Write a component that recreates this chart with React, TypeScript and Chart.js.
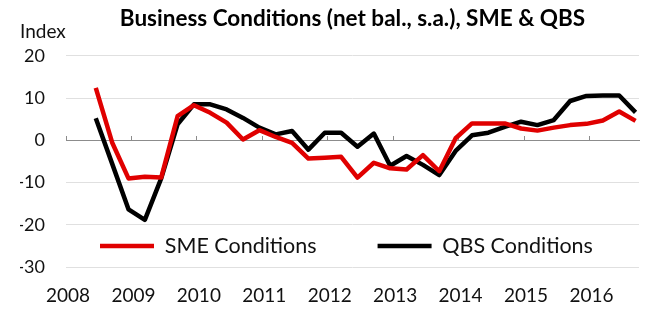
import React, { useEffect, useRef } from 'react';
import { Chart, registerables } from 'chart.js';

Chart.register(...registerables);

const TITLE = 'Business Conditions (net bal., s.a.), SME & QBS';
const Y_TITLE = 'Index';
const YEARS = ['2008', '2009', '2010', '2011', '2012', '2013', '2014', '2015', '2016'];
const Y_TICKS = [-30, -20, -10, 0, 10, 20];
const QUARTERS = [
  '2008 Q2', '2008 Q3', '2008 Q4',
  '2009 Q1', '2009 Q2', '2009 Q3', '2009 Q4',
  '2010 Q1', '2010 Q2', '2010 Q3', '2010 Q4',
  '2011 Q1', '2011 Q2', '2011 Q3', '2011 Q4',
  '2012 Q1', '2012 Q2', '2012 Q3', '2012 Q4',
  '2013 Q1', '2013 Q2', '2013 Q3', '2013 Q4',
  '2014 Q1', '2014 Q2', '2014 Q3', '2014 Q4',
  '2015 Q1', '2015 Q2', '2015 Q3', '2015 Q4',
  '2016 Q1', '2016 Q2', '2016 Q3',
];
const SME_LABEL = 'SME Conditions';
const QBS_LABEL = 'QBS Conditions';
const SME = [
  12.4, -0.5, -9.0, -8.6, -8.8, 5.7, 8.3, 6.5, 4.2, 0.2, 2.4, 0.8,
  -0.6, -4.3, -4.1, -3.9, -8.8, -5.3, -6.6, -6.9, -3.5, -7.3, 0.5, 4.0,
  4.0, 4.0, 2.8, 2.3, 3.0, 3.6, 3.9, 4.7, 6.8, 4.6,
];
const QBS = [
  5.2, -5.5, -16.3, -18.8, -9.0, 3.8, 8.5, 8.5, 7.3, 5.3, 3.0, 1.4,
  2.2, -2.2, 1.8, 1.8, -1.5, 1.6, -6.0, -3.7, -5.8, -8.2, -2.5, 1.2,
  1.8, 3.2, 4.4, 3.6, 4.8, 9.3, 10.5, 10.6, 10.6, 6.6,
];

const FONT = 'Lato, "Open Sans", sans-serif';
const RED = '#e00000';
const BLACK = '#000000';
const GRID = '#e0e0e0';
const ZERO = '#8c8c8c';
const LEGEND_SIZE = 21.5;
const LEGEND_PAD = 61;

export default function App() {
  const ref = useRef<HTMLCanvasElement>(null);

  useEffect(() => {
    if (!ref.current) return;
    const X_MIN = -1.82;
    const X_MAX = 33.21;
    const yearValues = YEARS.map((_, k) => X_MIN + 4 * k);
    const setYearTicks = (scale: any) => {
      scale.ticks = yearValues.map((v) => ({ value: v }));
    };

    const legendInside = {
      id: 'legendInside',
      beforeLayout(chart: any) {
        const lg = chart.legend;
        if (lg && !lg.__inside) {
          lg.__inside = true;
          const origFit = lg.fit.bind(lg);
          lg.fit = function () {
            const mw = lg.maxWidth;
            lg.maxWidth = mw + 400;
            origFit();
            lg.maxWidth = mw;
            lg.__h = lg.height;
            lg.height = 0;
          };
        }
      },
      afterLayout(chart: any) {
        const lg = chart.legend;
        if (!lg) return;
        const ca = chart.chartArea;
        const centerY = ca.bottom - 21.3;
        lg.left = ca.left + 34 - LEGEND_PAD;
        lg.right = chart.width + 400;
        lg.width = lg.right - lg.left;
        lg.top = centerY - LEGEND_PAD - LEGEND_SIZE / 2;
        lg.bottom = chart.height;
        lg.height = lg.bottom - lg.top;
      },
    };

    const chart = new Chart(ref.current, {
      type: 'line',
      data: {
        labels: QUARTERS,
        datasets: [
          {
            label: SME_LABEL,
            data: SME.map((y, i) => ({ x: i, y })),
            borderColor: RED,
            backgroundColor: RED,
            borderWidth: 4.5,
            pointRadius: 0,
            tension: 0,
            borderJoinStyle: 'round',
            xAxisID: 'x',
            yAxisID: 'y',
          },
          {
            label: QBS_LABEL,
            data: QBS.map((y, i) => ({ x: i, y })),
            borderColor: BLACK,
            backgroundColor: BLACK,
            borderWidth: 4.5,
            pointRadius: 0,
            tension: 0,
            borderJoinStyle: 'round',
            xAxisID: 'x',
            yAxisID: 'y',
          },
        ],
      },
      options: {
        responsive: false,
        animation: false,
        layout: { padding: { left: 20, right: 11, top: 0, bottom: 15.7 } },
        scales: {
          x: {
            type: 'linear',
            position: { y: 0 } as any,
            min: X_MIN,
            max: X_MAX,
            afterBuildTicks: setYearTicks,
            ticks: { display: false },
            grid: {
              drawOnChartArea: false,
              drawTicks: true,
              tickLength: -5,
              color: ZERO,
              tickColor: ZERO,
            },
            border: { display: true, color: ZERO, width: 1 },
          },
          x2: {
            type: 'linear',
            position: 'bottom',
            min: X_MIN,
            max: X_MAX,
            afterBuildTicks: setYearTicks,
            afterFit: (scale: any) => {
              scale.height = 40;
            },
            ticks: {
              autoSkip: false,
              maxRotation: 0,
              minRotation: 0,
              padding: 17.3,
              labelOffset: 2,
              color: '#111',
              font: { family: FONT, size: 19 },
              callback: (_v: any, i: number) => YEARS[i],
            },
            grid: { display: false, drawTicks: false },
            border: { display: false },
          },
          y: {
            type: 'linear',
            position: 'left',
            min: -30,
            max: 20,
            afterBuildTicks: (scale: any) => {
              scale.ticks = Y_TICKS.map((v) => ({ value: v }));
            },
            afterFit: (scale: any) => {
              scale.width = 46;
            },
            ticks: {
              padding: 21,
              color: '#111',
              font: { family: FONT, size: 18 },
            },
            grid: { color: GRID, drawTicks: false, lineWidth: 1 },
            border: { display: false },
          },
        },
        plugins: {
          title: {
            display: true,
            text: TITLE,
            color: '#000',
            align: 'center',
            fullSize: false,
            font: { family: FONT, size: 22.5, weight: 'bold', lineHeight: '12px' },
            padding: { top: 12.5, bottom: 0 },
          },
          subtitle: {
            display: true,
            text: Y_TITLE,
            color: '#111',
            align: 'start',
            fullSize: true,
            font: { family: FONT, size: 19, lineHeight: '12px' },
            padding: { top: 1, bottom: 18.2 },
          },
          legend: {
            display: true,
            position: 'bottom',
            align: 'start',
            labels: {
              usePointStyle: true,
              pointStyle: 'line',
              pointStyleWidth: 54,
              padding: LEGEND_PAD,
              color: '#111',
              font: { family: FONT, size: LEGEND_SIZE },
            },
          },
          tooltip: { enabled: false },
        },
      },
      plugins: [legendInside],
    } as any);

    return () => chart.destroy();
  }, []);

  return (
    <div style={{ position: 'absolute', left: 0, top: 0, width: 650, height: 323, background: '#fff' }}>
      <canvas ref={ref} width={650} height={323} style={{ width: 650, height: 323, display: 'block' }} />
    </div>
  );
}
